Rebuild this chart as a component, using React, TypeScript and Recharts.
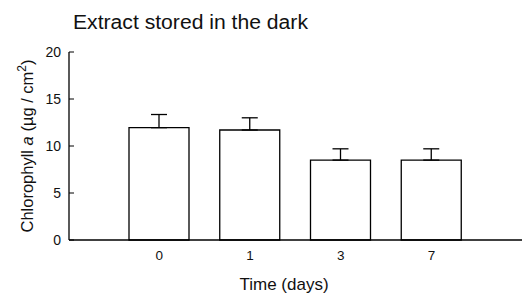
import React from 'react';
import { BarChart, Bar, XAxis, YAxis, ErrorBar } from 'recharts';

const days = ['0', '1', '3', '7'];
const chlorophyll = [11.95, 11.7, 8.5, 8.5];
const errorUp = [1.4, 1.3, 1.2, 1.2];
const yTicks = [0, 5, 10, 15, 20];

const data = days.map((day, i) => ({
  day,
  value: chlorophyll[i],
  err: [0, errorUp[i]],
}));

const FONT = '"Liberation Sans", Arial, sans-serif';

// y ticks point inward, label sits left of the axis
const YTick = ({ x, y, payload }: any) => (
  <g>
    <line x1={x} y1={y} x2={x + 5} y2={y} stroke="#000" strokeWidth={1} />
    <text x={x - 8} y={y} dy={5} textAnchor="end" fontSize={14} fontFamily={FONT} fill="#111">
      {payload.value}
    </text>
  </g>
);

const YLabel = () => (
  <text
    transform="translate(33,146) rotate(-90)"
    textAnchor="middle"
    fontSize={16.5}
    fontFamily={FONT}
    fill="#111"
  >
    Chlorophyll <tspan fontStyle="italic">a</tspan> (µg / cm
    <tspan dy={-7} fontSize={12}>2</tspan>
    <tspan dy={7}>)</tspan>
  </text>
);

const XLabel = () => (
  <text x={284} y={290} textAnchor="middle" fontSize={17} fontFamily={FONT} fill="#111">
    Time (days)
  </text>
);

export default function App() {
  return (
    <div style={{ position: 'absolute', left: 0, top: 0, width: 523, height: 296, background: '#fff' }}>
      <svg width={523} height={40} style={{ position: 'absolute', left: 0, top: 0 }}>
        <text
          x={73}
          y={29}
          fontSize={19.5}
          fontFamily={FONT}
          fill="#111"
          textLength={235}
          lengthAdjust="spacingAndGlyphs"
        >
          Extract stored in the dark
        </text>
      </svg>
      <BarChart
        width={523}
        height={296}
        data={data}
        margin={{ top: 52, right: 1, left: 0, bottom: 0 }}
        barSize={60}
      >
        <XAxis
          dataKey="day"
          height={56}
          padding={{ left: 45, right: 45 }}
          axisLine={{ stroke: '#000', strokeWidth: 1.3 }}
          tickLine={false}
          tick={{ fontSize: 13.5, fill: '#111', fontFamily: FONT }}
          tickMargin={4}
          label={<XLabel />}
        />
        <YAxis
          width={69}
          domain={[0, 20]}
          ticks={yTicks}
          interval={0}
          tickSize={0}
          tickMargin={0}
          tickLine={false}
          axisLine={{ stroke: '#000', strokeWidth: 1.3 }}
          tick={<YTick />}
          label={<YLabel />}
        />
        <Bar dataKey="value" fill="#fff" stroke="#000" strokeWidth={1.3} isAnimationActive={false}>
          <ErrorBar dataKey="err" width={8} stroke="#000" strokeWidth={1.3} isAnimationActive={false} />
        </Bar>
      </BarChart>
    </div>
  );
}
